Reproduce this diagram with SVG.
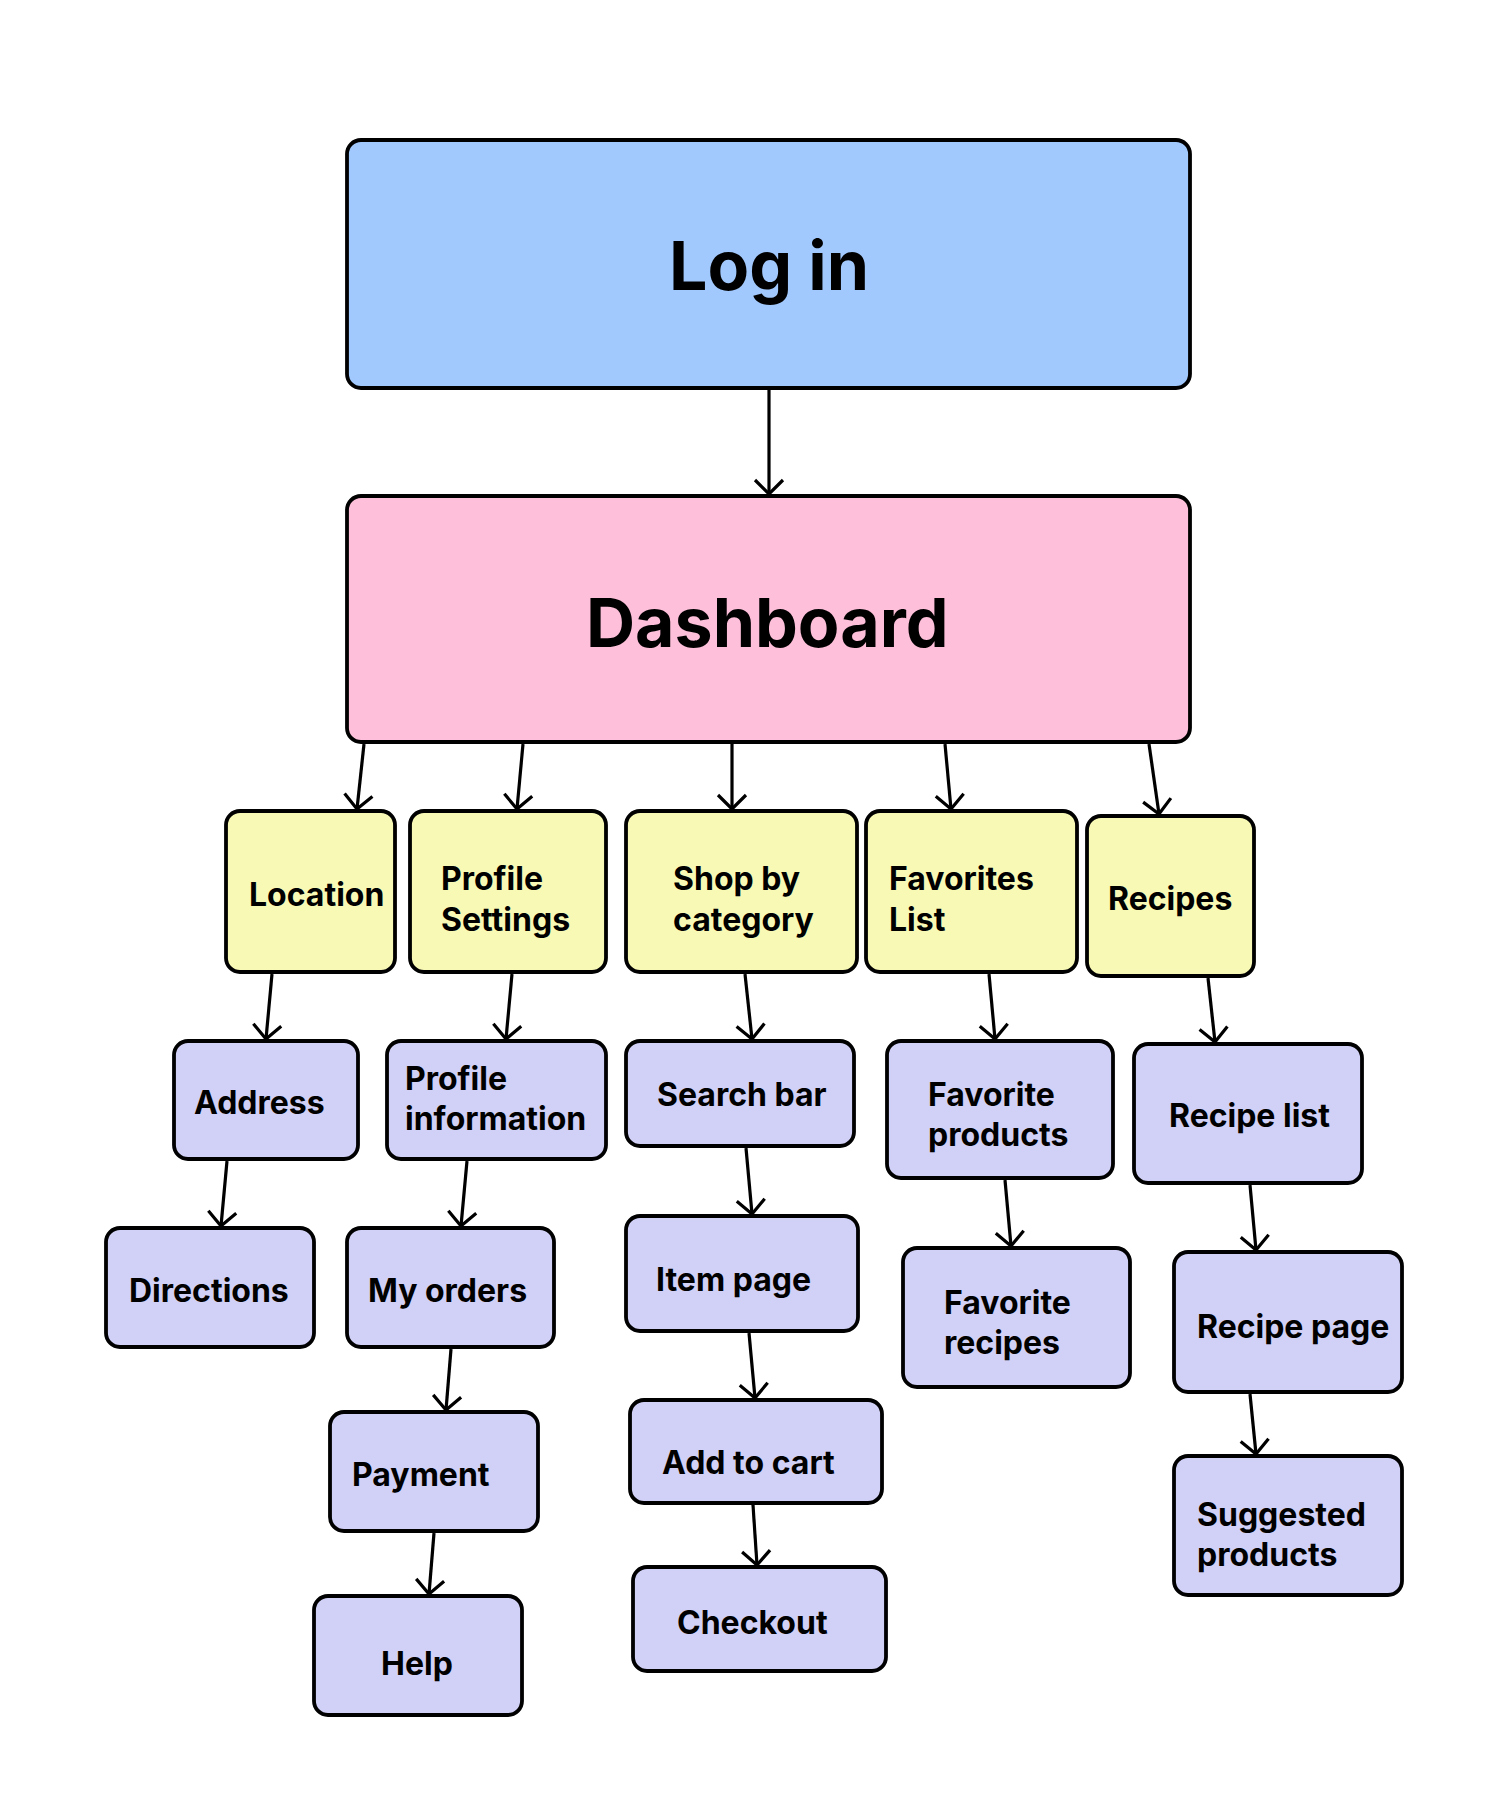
<svg xmlns="http://www.w3.org/2000/svg" width="1502" height="1799" viewBox="0 0 1502 1799">
<style>
.box{stroke:#000;stroke-width:3.8}
.blue{fill:#A2C9FD}
.pink{fill:#FDBFD9}
.yel{fill:#F9F9B6}
.pur{fill:#D1D0F6}
.t{font-family:Inter,"Liberation Sans",sans-serif;font-weight:700;font-size:32px;fill:#000}
.big{font-size:68px}
.c{fill:none;stroke:#000;stroke-width:3.2}
</style>
<defs>
<marker id="ah" viewBox="-18 -18 36 36" refX="0" refY="0" markerWidth="36" markerHeight="36" markerUnits="userSpaceOnUse" orient="auto">
<path d="M -14 -14 L 0 0 L -14 14" fill="none" stroke="#000" stroke-width="3.2"/>
</marker>
</defs>
<rect width="1502" height="1799" fill="#fff"/>
<g id="connectors">
<line class="c" x1="769" y1="389" x2="769" y2="494" marker-end="url(#ah)"/>
<line class="c" x1="364" y1="744" x2="357" y2="809" marker-end="url(#ah)"/>
<line class="c" x1="523" y1="744" x2="517" y2="809" marker-end="url(#ah)"/>
<line class="c" x1="732" y1="744" x2="732" y2="809" marker-end="url(#ah)"/>
<line class="c" x1="945" y1="744" x2="951" y2="809" marker-end="url(#ah)"/>
<line class="c" x1="1149" y1="744" x2="1159" y2="814" marker-end="url(#ah)"/>
<line class="c" x1="272" y1="974" x2="266" y2="1039" marker-end="url(#ah)"/>
<line class="c" x1="512" y1="974" x2="506" y2="1039" marker-end="url(#ah)"/>
<line class="c" x1="745" y1="974" x2="752" y2="1039" marker-end="url(#ah)"/>
<line class="c" x1="989" y1="974" x2="995" y2="1039" marker-end="url(#ah)"/>
<line class="c" x1="1208" y1="978" x2="1215" y2="1042" marker-end="url(#ah)"/>
<line class="c" x1="227" y1="1161" x2="221" y2="1226" marker-end="url(#ah)"/>
<line class="c" x1="467" y1="1161" x2="461" y2="1226" marker-end="url(#ah)"/>
<line class="c" x1="746" y1="1148" x2="752" y2="1214" marker-end="url(#ah)"/>
<line class="c" x1="1005" y1="1180" x2="1011" y2="1246" marker-end="url(#ah)"/>
<line class="c" x1="1250" y1="1185" x2="1256" y2="1250" marker-end="url(#ah)"/>
<line class="c" x1="451" y1="1349" x2="446" y2="1410" marker-end="url(#ah)"/>
<line class="c" x1="749" y1="1333" x2="755" y2="1398" marker-end="url(#ah)"/>
<line class="c" x1="1250" y1="1394" x2="1256" y2="1454" marker-end="url(#ah)"/>
<line class="c" x1="434" y1="1533" x2="429" y2="1594" marker-end="url(#ah)"/>
<line class="c" x1="753" y1="1505" x2="757" y2="1565" marker-end="url(#ah)"/>
</g>
<g id="login"><rect class="box blue" x="347" y="140" width="843" height="248" rx="14"/><text class="t big" x="669" y="290">Log in</text></g>
<g id="dashboard"><rect class="box pink" x="347" y="496" width="843" height="246" rx="14"/><text class="t big" x="586" y="647">Dashboard</text></g>
<g id="location"><rect class="box yel" x="226" y="811" width="169" height="161" rx="14"/><text class="t" x="249" y="906">Location</text></g>
<g id="profile-settings"><rect class="box yel" x="410" y="811" width="196" height="161" rx="14"/><text class="t" x="441" y="890">Profile</text><text class="t" x="441" y="931">Settings</text></g>
<g id="shop-by-category"><rect class="box yel" x="626" y="811" width="231" height="161" rx="14"/><text class="t" x="673" y="890">Shop by</text><text class="t" x="673" y="931">category</text></g>
<g id="favorites-list"><rect class="box yel" x="866" y="811" width="211" height="161" rx="14"/><text class="t" x="889" y="890">Favorites</text><text class="t" x="889" y="931">List</text></g>
<g id="recipes"><rect class="box yel" x="1087" y="816" width="167" height="160" rx="14"/><text class="t" x="1108" y="910">Recipes</text></g>
<g id="address"><rect class="box pur" x="174" y="1041" width="184" height="118" rx="14"/><text class="t" x="194" y="1114">Address</text></g>
<g id="profile-information"><rect class="box pur" x="387" y="1041" width="219" height="118" rx="14"/><text class="t" x="405" y="1090">Profile</text><text class="t" x="405" y="1130">information</text></g>
<g id="search-bar"><rect class="box pur" x="626" y="1041" width="228" height="105" rx="14"/><text class="t" x="657" y="1106">Search bar</text></g>
<g id="favorite-products"><rect class="box pur" x="887" y="1041" width="226" height="137" rx="14"/><text class="t" x="928" y="1106">Favorite</text><text class="t" x="928" y="1146">products</text></g>
<g id="recipe-list"><rect class="box pur" x="1134" y="1044" width="228" height="139" rx="14"/><text class="t" x="1169" y="1127">Recipe list</text></g>
<g id="directions"><rect class="box pur" x="106" y="1228" width="208" height="119" rx="14"/><text class="t" x="129" y="1302">Directions</text></g>
<g id="my-orders"><rect class="box pur" x="347" y="1228" width="207" height="119" rx="14"/><text class="t" x="368" y="1302">My orders</text></g>
<g id="item-page"><rect class="box pur" x="626" y="1216" width="232" height="115" rx="14"/><text class="t" x="656" y="1291">Item page</text></g>
<g id="favorite-recipes"><rect class="box pur" x="903" y="1248" width="227" height="139" rx="14"/><text class="t" x="944" y="1314">Favorite</text><text class="t" x="944" y="1354">recipes</text></g>
<g id="recipe-page"><rect class="box pur" x="1174" y="1252" width="228" height="140" rx="14"/><text class="t" x="1197" y="1338">Recipe page</text></g>
<g id="payment"><rect class="box pur" x="330" y="1412" width="208" height="119" rx="14"/><text class="t" x="352" y="1486">Payment</text></g>
<g id="add-to-cart"><rect class="box pur" x="630" y="1400" width="252" height="103" rx="14"/><text class="t" x="662" y="1474">Add to cart</text></g>
<g id="suggested-products"><rect class="box pur" x="1174" y="1456" width="228" height="139" rx="14"/><text class="t" x="1197" y="1526">Suggested</text><text class="t" x="1197" y="1566">products</text></g>
<g id="help"><rect class="box pur" x="314" y="1596" width="208" height="119" rx="14"/><text class="t" x="381" y="1675">Help</text></g>
<g id="checkout"><rect class="box pur" x="633" y="1567" width="253" height="104" rx="14"/><text class="t" x="677" y="1634">Checkout</text></g>
</svg>
